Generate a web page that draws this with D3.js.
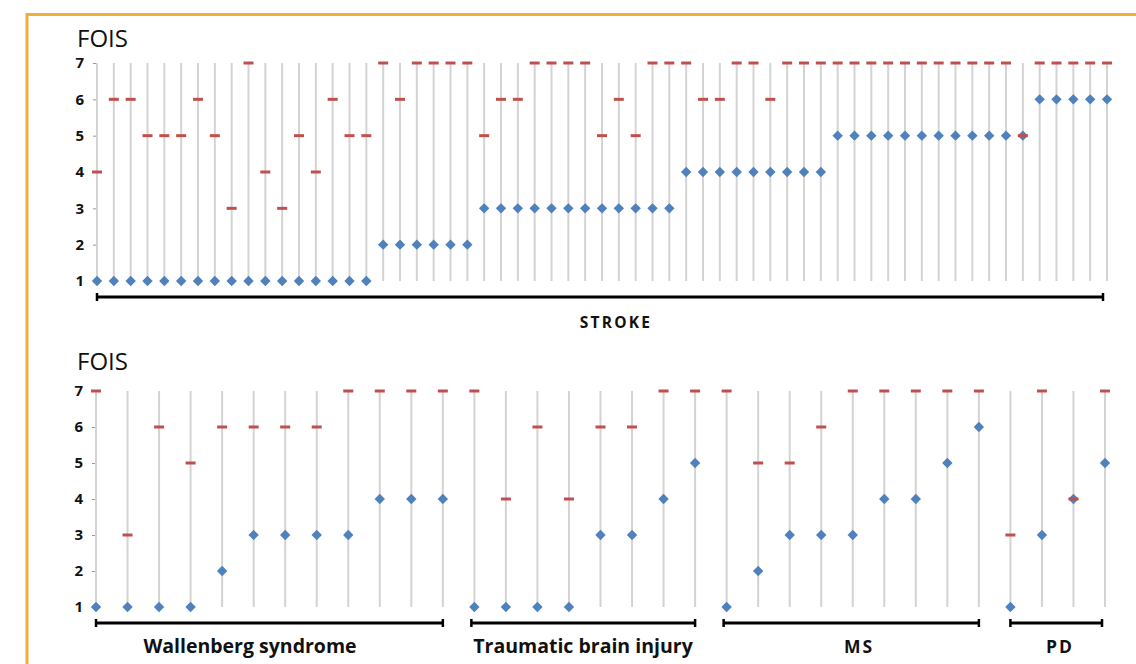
<!DOCTYPE html>
<html><head><meta charset="utf-8">
<script src="https://cdn.jsdelivr.net/npm/d3@7"></script>
<style>body{margin:0;background:#fff} svg{display:block}</style>
</head><body><svg id="c" width="1136" height="664"></svg>
<script>
// ---- data ----
const yTicks = [1, 2, 3, 4, 5, 6, 7];
const strokeLabel = "STROKE";
const strokePre = [1,1,1,1,1,1,1,1,1,1,1,1,1,1,1,1,1, 2,2,2,2,2,2, 3,3,3,3,3,3,3,3,3,3,3,3, 4,4,4,4,4,4,4,4,4, 5,5,5,5,5,5,5,5,5,5,5,5, 6,6,6,6,6];
const strokePost = [4,6,6,5,5,5,6,5,3,7,4,3,5,4,6,5,5, 7,6,7,7,7,7, 5,6,6,7,7,7,7,5,6,5,7,7, 7,6,6,7,7,6,7,7,7, 7,7,7,7,7,7,7,7,7,7,7,5, 7,7,7,7,7];
const groupNames = ["Wallenberg syndrome", "Traumatic brain injury", "MS", "PD"];
const wallPre = [1,1,1,1,2,3,3,3,3,4,4,4];
const wallPost = [7,3,6,5,6,6,6,6,7,7,7,7];
const tbiPre = [1,1,1,1,3,3,4,5];
const tbiPost = [7,4,6,4,6,6,7,7];
const msPre = [1,2,3,3,3,4,4,5,6];
const msPost = [7,5,5,6,7,7,7,7,7];
const pdPre = [1,3,4,5];
const pdPost = [3,7,4,7];

const svg = d3.select("#c");
const BLUE = "#4F81BD", RED = "#C0504D", GRID = "#d3d3d3";
const FONT = "'Open Sans', 'Noto Sans', sans-serif";

// frame
svg.append("path").attr("d", "M27,664 V14.5 H1136")
  .attr("fill", "none").attr("stroke", "#F0AE3A").attr("stroke-width", 3);

function panel(pre, post, xRange, yRange, titleY, groups, bracketY, labelY) {
  const n = pre.length;
  const x = d3.scaleLinear().domain([0, n - 1]).range(xRange);
  const y = d3.scaleLinear().domain([1, 7]).range(yRange);
  const g = svg.append("g");
  g.append("text").attr("x", 77).attr("y", titleY).text("FOIS")
    .attr("font-family", FONT).attr("font-size", 24).attr("fill", "#111");
  // axis
  const ax = g.append("g").attr("transform", `translate(${xRange[0]},0)`)
    .call(d3.axisLeft(y).tickValues(yTicks).tickSize(4).tickPadding(9).tickFormat(d3.format("d")));
  ax.select(".domain").attr("stroke", "#aaa");
  ax.selectAll(".tick line").attr("stroke", "#999");
  ax.selectAll(".tick text").attr("font-family", FONT).attr("font-weight", 700)
    .attr("font-size", 15).attr("fill", "#111");
  const idx = d3.range(n);
  g.selectAll(".v").data(idx).join("line")
    .attr("x1", i => x(i)).attr("x2", i => x(i))
    .attr("y1", y(7)).attr("y2", y(1))
    .attr("stroke", GRID).attr("stroke-width", 2);
  g.selectAll(".d").data(idx).join("path")
    .attr("d", "M0,-5.2 L5.2,0 L0,5.2 L-5.2,0 Z")
    .attr("transform", i => `translate(${x(i)},${y(pre[i])})`)
    .attr("fill", BLUE);
  g.selectAll(".p").data(idx).join("rect")
    .attr("x", i => x(i) - 5).attr("y", i => y(post[i]) - 1.5)
    .attr("width", 10).attr("height", 3).attr("fill", RED);
  // brackets
  groups.forEach(gr => {
    const x0 = x(gr.start) + (gr.dx0 || 0), x1 = x(gr.end) + (gr.dx1 || 0);
    g.append("line").attr("x1", x0).attr("x2", x1).attr("y1", bracketY).attr("y2", bracketY)
      .attr("stroke", "#000").attr("stroke-width", 3);
    [x0, x1].forEach(xx => g.append("line").attr("x1", xx).attr("x2", xx)
      .attr("y1", bracketY - 4).attr("y2", bracketY + 4).attr("stroke", "#000").attr("stroke-width", 2.5));
    g.append("text").attr("x", gr.lx != null ? gr.lx : (x0 + x1) / 2).attr("y", labelY)
      .attr("text-anchor", "middle").text(gr.name)
      .attr("font-family", FONT).attr("font-weight", 700)
      .attr("font-size", gr.fs).attr("letter-spacing", gr.ls || 0).attr("fill", "#111");
  });
}

panel(strokePre, strokePost, [97, 1107], [281, 63], 47,
  [{ start: 0, end: strokePre.length - 1, dx1: -4, name: strokeLabel, fs: 15.5, ls: 2.2, lx: 616 }], 297, 328);

const otherPre = wallPre.concat(tbiPre, msPre, pdPre);
const otherPost = wallPost.concat(tbiPost, msPost, pdPost);
const sizes = [wallPre.length, tbiPre.length, msPre.length, pdPre.length];
let s = 0;
const groups = sizes.map((k, i) => {
  const gr = { start: s, end: s + k - 1, name: groupNames[i], fs: i < 2 ? 19.5 : 17.5, ls: i < 2 ? 0 : 2, dx0: (i === 1 || i === 2) ? -3 : 0, dx1: i === 3 ? -3 : 0 };
  s += k; return gr;
});
groups[0].lx = 250; groups[1].lx = 583; groups[2].lx = 859; groups[3].lx = 1060;
panel(otherPre, otherPost, [96, 1105], [607, 391], 370, groups, 623, 653);
</script></body></html>
